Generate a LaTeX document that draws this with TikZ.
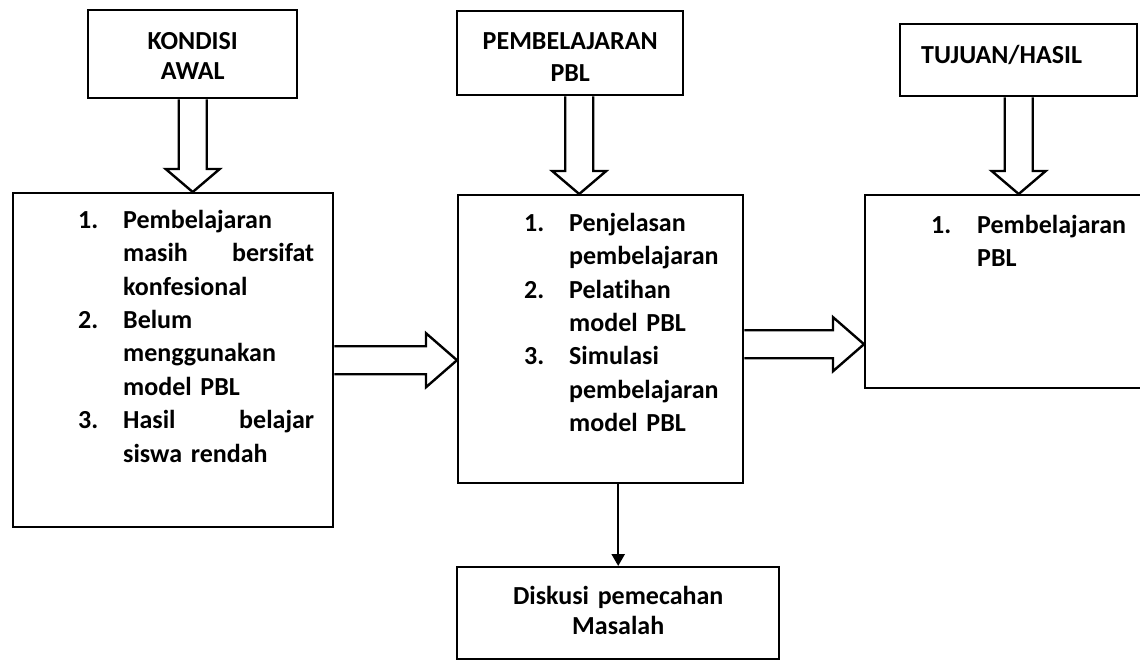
\documentclass[tikz,border=0pt]{standalone}
\usepackage{fontspec}
\setmainfont{Carlito}[Ligatures={NoCommon,NoRequired,NoContextual}, Contextuals=NoAlternate, WordSpace=0.7]
\usetikzlibrary{calc,arrows.meta}

\tikzset{
  kotak/.style={draw, line width=1.2pt, inner sep=0pt, anchor=north west},
  judul/.style={kotak, align=center, font=\fontsize{13}{15}\selectfont\bfseries},
  isi/.style={kotak, align=left, font=\fontsize{13}{16.7}\selectfont\bfseries},
  panah blok/.style={line width=1.2pt, to path={
      let \p0=(\tikztostart), \p9=(\tikztotarget),
          \p1=($(\p9)!#1!(\p0)$) in
      ($(\p0)!7pt!90:(\p9)$) -- ($(\p1)!7pt!90:(\p9)$)
      -- ($(\p1)!13.5pt!90:(\p9)$) -- (\p9)
      -- ($(\p1)!13.5pt!-90:(\p9)$) -- ($(\p1)!7pt!-90:(\p9)$)
      -- ($(\p0)!7pt!-90:(\p9)$)}},
  panah/.style={line width=1.2pt, -{Triangle[length=6pt,width=6.5pt]}},
}

\begin{document}
\begin{tikzpicture}[x=0.5pt, y=-0.5pt]
  \path[use as bounding box, clip] (0,0) rectangle (1140,661);

  % header boxes
  \node[judul, text width=104.5pt, text height=19.5pt, text depth=24.5pt]
    (kondisi) at (87,9) {KONDISI\\AWAL};
  \node[judul, text width=113pt, text height=19pt, text depth=23pt]
    (pbl) at (456,10) {PEMBELAJARAN\\[1pt]PBL};
  \node[judul, align=left, text width=118.5pt, text height=19.5pt, text depth=16.5pt]
    (tujuan) at (899,23) {\hspace*{10.5pt}TUJUAN/HASIL};

  % content boxes
  \node[isi, text width=160pt, text height=17.5pt, text depth=149.5pt]
    (awal) at (12,192) {\hspace*{32.5pt}\begin{tabular}[t]{@{}p{22.5pt}@{}p{95.5pt}@{}}
      1. & Pembelajaran\\
         & masih\hfill bersifat\\
         & konfesional\\
      2. & Belum\\
         & menggunakan\\
         & model PBL\\
      3. & Hasil\hfill belajar\\
         & siswa rendah
    \end{tabular}};
  \node[isi, text width=142.5pt, text height=18pt, text depth=126pt]
    (proses) at (457,194) {\hspace*{33pt}\begin{tabular}[t]{@{}p{22.5pt}@{}p{85pt}@{}}
      1. & Penjelasan\\
         & pembelajaran\\
      2. & Pelat\kern0pt ihan\\
         & model PBL\\
      3. & Simulasi\\
         & pembelajaran\\
         & model PBL
    \end{tabular}};
  \node[isi, text width=143pt, text height=19pt, text depth=77.5pt]
    (hasil) at (864,194) {\hspace*{33pt}\begin{tabular}[t]{@{}p{23pt}@{}p{85pt}@{}}
      1. & Pembelajaran\\
         & PBL
    \end{tabular}};
  \node[judul, text width=161pt, text height=18.5pt, text depth=27.5pt]
    (diskusi) at (456,566) {Diskusi pemecahan\\Masalah};

  % block arrows
  \draw[panah blok=11.5pt] (kondisi.south) to (kondisi.south |- awal.north);
  \draw[panah blok=11.5pt] ($(pbl.south)+(9,0)$) to ($(pbl.south |- proses.north)+(9,0)$);
  \draw[panah blok=11.5pt] (tujuan.south) to (tujuan.south |- hasil.north);
  \draw[panah blok=15.5pt] (awal.east) to (awal.east -| proses.west);
  \draw[panah blok=15.5pt] ($(proses.east)+(0,5)$) to ($(proses.east -| hasil.west)+(0,5)$);

  \draw[panah] (diskusi.north |- proses.south) -- (diskusi.north);
\end{tikzpicture}
\end{document}
